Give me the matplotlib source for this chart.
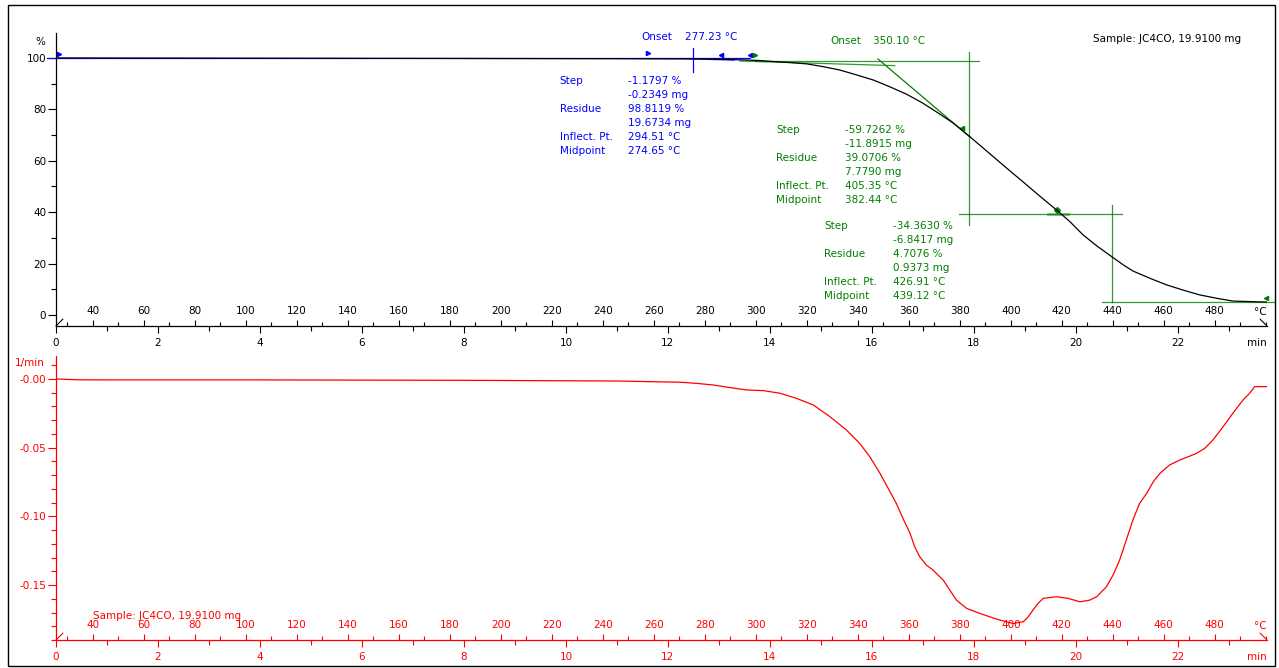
import numpy as np
import matplotlib.pyplot as plt
from matplotlib.patches import Rectangle
from matplotlib.ticker import MultipleLocator, FixedFormatter

plt.rcParams["font.family"] = "DejaVu Sans"
plt.rcParams["font.size"] = 7.5

# TGA curve (time in min, mass in %)
tga_time = [0, 4, 8, 11, 12.43, 13.2, 13.8, 14.07, 14.39, 14.72, 15.05, 15.37, 15.70,
            16.03, 16.35, 16.68, 17.0, 17.33, 17.60, 17.92, 18.31, 18.64, 18.97,
            19.29, 19.63, 19.88, 20.14, 20.41, 20.71, 20.93, 21.12, 21.45, 21.78,
            22.10, 22.43, 22.76, 23.08, 23.41, 23.75]
tga_mass = [100, 99.9, 99.8, 99.7, 99.6, 99.4, 99.0, 98.6, 98.2, 97.7, 96.6, 95.3, 93.4,
            91.4, 88.8, 85.9, 82.4, 78.2, 74.6, 69.4, 62.8, 57.2, 51.7,
            46.3, 40.7, 36.4, 31.2, 26.9, 22.6, 19.5, 17.1, 14.3, 11.7,
            9.7, 7.8, 6.5, 5.4, 5.2, 5.0]

# DTG curve (1/min)
dtg_time = [0, 0.4, 1, 4, 8, 11, 12.24, 12.56, 12.89, 13.22, 13.54, 13.87, 14.20, 14.52,
            14.85, 15.18, 15.50, 15.76, 15.96, 16.16, 16.32, 16.48, 16.61, 16.75,
            16.84, 16.94, 17.07, 17.20, 17.30, 17.40, 17.53, 17.66, 17.86, 18.12,
            18.31, 18.51, 18.77, 18.97, 19.07, 19.16, 19.26, 19.36, 19.62, 19.85,
            20.08, 20.27, 20.41, 20.60, 20.73, 20.86, 20.99, 21.12, 21.25, 21.39,
            21.52, 21.65, 21.84, 22.04, 22.24, 22.37, 22.53, 22.69, 22.89, 23.08,
            23.28, 23.41, 23.51, 23.74]
dtg_val = [0.0, -0.0006, -0.0007, -0.0007, -0.0010, -0.0015, -0.0024, -0.0032, -0.0044,
           -0.0063, -0.0080, -0.0085, -0.0104, -0.0141, -0.0189, -0.0275, -0.0371,
           -0.0468, -0.0566, -0.0687, -0.0796, -0.0906, -0.1015, -0.1124, -0.1221,
           -0.1294, -0.1355, -0.1391, -0.1428, -0.1464, -0.1537, -0.1610, -0.1670,
           -0.1707, -0.1731, -0.1755, -0.1780, -0.1767, -0.1731, -0.1682, -0.1634,
           -0.1597, -0.1585, -0.1597, -0.1622, -0.1610, -0.1585, -0.1513, -0.1428,
           -0.1318, -0.1173, -0.1027, -0.0906, -0.0833, -0.0748, -0.0687, -0.0626,
           -0.0590, -0.0561, -0.0541, -0.0505, -0.0444, -0.0347, -0.0250, -0.0153,
           -0.0104, -0.0056, -0.0056]

T0, RATE = 25.5, 20.0  # start temperature, heating rate

# evaluation texts
blue_labels = ["Step", "", "Residue", "", "Inflect. Pt.", "Midpoint"]
blue_values = ["-1.1797 %", "-0.2349 mg", "98.8119 %", "19.6734 mg", "294.51 \u00b0C", "274.65 \u00b0C"]
green1_labels = ["Step", "", "Residue", "", "Inflect. Pt.", "Midpoint"]
green1_values = ["-59.7262 %", "-11.8915 mg", "39.0706 %", "7.7790 mg", "405.35 \u00b0C", "382.44 \u00b0C"]
green2_labels = ["Step", "", "Residue", "", "Inflect. Pt.", "Midpoint"]
green2_values = ["-34.3630 %", "-6.8417 mg", "4.7076 %", "0.9373 mg", "426.91 \u00b0C", "439.12 \u00b0C"]

BLUE = "#0000ff"
GREEN = "#008000"
RED = "#ff0000"

W, H = 1279, 668
fig = plt.figure(figsize=(W / 100, H / 100), dpi=100)


def box(x0, y0, x1, y1):
    return [x0 / W, 1 - y1 / H, (x1 - x0) / W, (y1 - y0) / H]


def style_axes(ax, color):
    ax.set_xlim(0, 23.75)
    for s in ["top", "right"]:
        ax.spines[s].set_visible(False)
    for s in ["left", "bottom"]:
        ax.spines[s].set_color(color)
        ax.spines[s].set_linewidth(0.9)
    ax.set_xticks(np.arange(0, 23, 2))
    ax.xaxis.set_minor_locator(MultipleLocator(1))
    ax.tick_params(axis="x", which="major", direction="out", length=5, width=0.8,
                   pad=3.5, colors=color, labelcolor="black" if color == "black" else color)
    ax.tick_params(axis="x", which="minor", direction="out", length=3.6, width=0.8, colors=color)
    ax.tick_params(axis="y", which="major", direction="out", length=5.5, width=0.8,
                   pad=1.5, colors=color)
    ax.tick_params(axis="y", which="minor", direction="out", length=3.5, width=0.8, colors=color)

    sec = ax.secondary_xaxis("bottom", functions=(lambda t: T0 + RATE * t,
                                                  lambda T: (T - T0) / RATE))
    sec.spines["bottom"].set_visible(False)
    sec.set_xticks(np.arange(40, 500, 20))
    sec.xaxis.set_minor_locator(MultipleLocator(10))
    sec.tick_params(which="major", direction="in", length=4.5, width=0.8, pad=-14.5, colors=color)
    sec.tick_params(which="minor", direction="in", length=3.2, width=0.8, colors=color)

    # unit labels at the right end of the axis
    ax.annotate("\u00b0C", xy=(1, 0), xycoords="axes fraction", xytext=(0, 10),
                textcoords="offset points", ha="right", va="center", color=color)
    ax.annotate("min", xy=(1, 0), xycoords="axes fraction", xytext=(0, -9),
                textcoords="offset points", ha="right", va="top", color=color)
    # axis end marks
    ax.annotate("", xy=(0, 0), xycoords="axes fraction", xytext=(5, 5),
                textcoords="offset points",
                arrowprops=dict(arrowstyle="-", color=color, lw=0.8, shrinkA=0, shrinkB=0))
    ax.annotate("", xy=(1, 0), xycoords="axes fraction", xytext=(-5, 5),
                textcoords="offset points",
                arrowprops=dict(arrowstyle="-", color=color, lw=0.8, shrinkA=0, shrinkB=0))


# ---------------- top panel: TGA ----------------
ax1 = fig.add_axes(box(56, 33, 1267, 326))
style_axes(ax1, "black")
ax1.set_ylim(-4.3, 109.7)
ax1.set_yticks(np.arange(0, 101, 20))
ax1.yaxis.set_minor_locator(MultipleLocator(10))
ax1.annotate("%", xy=(0, 1), xycoords="axes fraction", xytext=(-11.5, -6.5),
             textcoords="offset points", ha="center", va="center")

ax1.plot(tga_time, tga_mass, color="black", lw=0.9, zorder=3)

# first step (blue)
ax1.plot([-0.18, 13.61], [100.0, 100.0], color=BLUE, lw=0.9, clip_on=False, zorder=2)
ax1.plot([12.3, 13.3], [99.8, 99.0], color=BLUE, lw=0.8, alpha=0.6, zorder=2)
ax1.plot([12.49, 12.49], [94.6, 103.9], color=BLUE, lw=0.9, zorder=2)
ax1.plot([0.05, 11.61], [101.6, 101.9], ls="none", marker=">", ms=3, color=BLUE, clip_on=False)
ax1.plot([13.04, 13.61], [101.2, 101.2], ls="none", marker="<", ms=3, color=BLUE)

# second and third steps (green)
ax1.plot([13.71, 18.10], [98.95, 98.95], color=GREEN, lw=0.9, alpha=0.8)
ax1.plot([13.41, 16.45], [98.8, 97.0], color=GREEN, lw=0.9, alpha=0.8)
ax1.plot([16.12, 17.92], [99.6, 69.3], color=GREEN, lw=0.9)
ax1.plot([17.90, 17.90], [35.0, 102.3], color=GREEN, lw=0.9, alpha=0.8)
ax1.plot([17.71, 20.90], [39.3, 39.3], color=GREEN, lw=0.9, alpha=0.8)
ax1.plot([19.45, 19.85], [39.3, 39.3], color=GREEN, lw=2, alpha=0.5)
ax1.plot([20.71, 20.71], [5.06, 42.8], color=GREEN, lw=0.9, alpha=0.8)
ax1.plot([20.51, 23.90], [5.2, 5.2], color=GREEN, lw=0.9, alpha=0.8, clip_on=False)
ax1.plot([13.71], [101.2], ls="none", marker=">", ms=3, color=GREEN)
ax1.plot([17.76, 23.73], [72.8, 6.6], ls="none", marker="<", ms=3, color=GREEN, clip_on=False)
ax1.plot([19.63], [40.9], ls="none", marker="D", ms=3, color=GREEN)


def text_block(ax, xl, xv, y, labels, values, color):
    for i, (lab, val) in enumerate(zip(labels, values)):
        ax.annotate(lab, xy=(xl, y), xytext=(0, -10.1 * i), textcoords="offset points",
                    color=color, va="center", ha="left")
        ax.annotate(val, xy=(xv, y), xytext=(0, -10.1 * i), textcoords="offset points",
                    color=color, va="center", ha="left")


ax1.text(11.49, 108.2, "Onset", color=BLUE, va="center")
ax1.text(12.33, 108.2, "277.23 \u00b0C", color=BLUE, va="center")
text_block(ax1, 9.88, 11.22, 91.1, blue_labels, blue_values, BLUE)

ax1.text(15.18, 106.6, "Onset", color=GREEN, va="center")
ax1.text(16.02, 106.6, "350.10 \u00b0C", color=GREEN, va="center")
text_block(ax1, 14.12, 15.47, 72.0, green1_labels, green1_values, GREEN)
text_block(ax1, 15.06, 16.41, 34.6, green2_labels, green2_values, GREEN)

ax1.text(20.33, 107.4, "Sample: JC4CO, 19.9100 mg", color="black", va="center")

# ---------------- bottom panel: DTG ----------------
ax2 = fig.add_axes(box(56, 356, 1267, 640))
style_axes(ax2, RED)
ax2.set_ylim(-0.190, 0.0167)
ax2.set_yticks([-0.15, -0.10, -0.05, 0.0])
ax2.yaxis.set_major_formatter(FixedFormatter(["-0.15", "-0.10", "-0.05", "-0.00"]))
ax2.yaxis.set_minor_locator(MultipleLocator(0.01))
ax2.annotate("1/min", xy=(0, 1), xycoords="axes fraction", xytext=(-19, -5),
             textcoords="offset points", ha="center", va="center", color=RED)

ax2.plot(dtg_time, dtg_val, color=RED, lw=0.9)
ax2.text(0.725, -0.1726, "Sample: JC4CO, 19.9100 mg", color=RED, va="center")

# outer frame
fig.patches.append(Rectangle((8 / W, 1 - 666 / H), 1267 / W, 661 / H, transform=fig.transFigure,
                             fill=False, edgecolor="black", lw=1))

fig.savefig("out.png", dpi=100, facecolor="white")
